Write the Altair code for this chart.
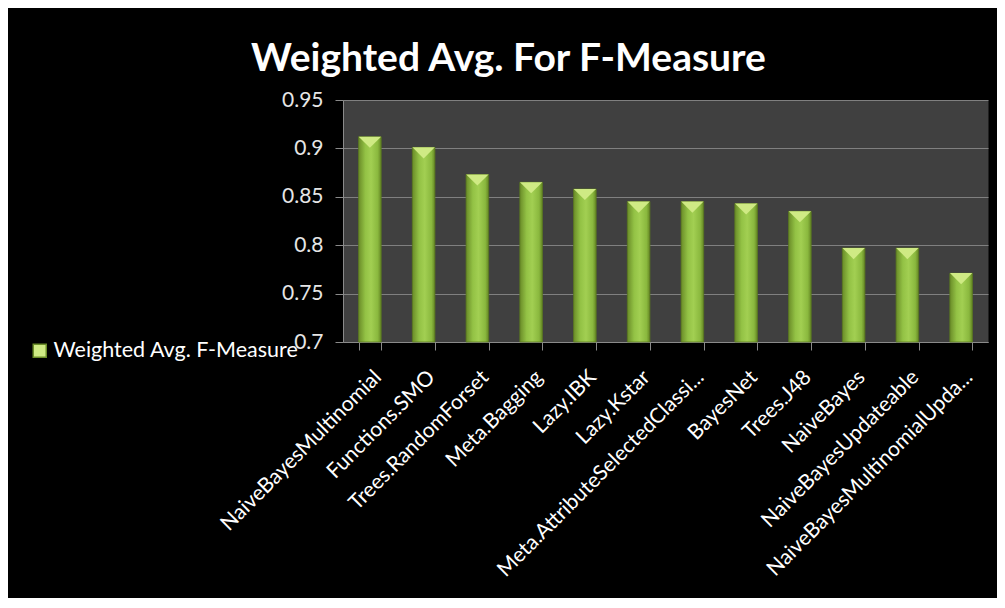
import altair as alt
import pandas as pd

categories = [
    "NaiveBayesMultinomial",
    "Functions.SMO",
    "Trees.RandomForset",
    "Meta.Bagging",
    "Lazy.IBK",
    "Lazy.Kstar",
    "Meta.AttributeSelectedClassi...",
    "BayesNet",
    "Trees.J48",
    "NaiveBayes",
    "NaiveBayesUpdateable",
    "NaiveBayesMultinomialUpda...",
]
values = [0.912, 0.901, 0.873, 0.865, 0.858, 0.845, 0.845, 0.843, 0.835, 0.797, 0.797, 0.771]
series_name = "Weighted Avg. F-Measure"
y_ticks = [0.7, 0.75, 0.8, 0.85, 0.9, 0.95]

df = pd.DataFrame({"algo": categories, "value": values, "series": [series_name] * len(categories)})

FONT = "Lato"

x_enc = alt.X(
    "algo:N",
    sort=None,
    scale=alt.Scale(paddingInner=0.58, paddingOuter=0.29),
    axis=alt.Axis(
        title=None,
        labelAngle=-45,
        labelColor="#ffffff",
        labelFont=FONT,
        labelFontSize=21,
        labelLimit=0,
        labelPadding=16,
        tickBand="extent",
        tickSize=8,
        tickColor="#8a8a8a",
        domainColor="#8a8a8a",
        grid=False,
    ),
)
y_scale = alt.Scale(domain=[0.7, 0.95], nice=False, zero=False)
y_enc = alt.Y(
    "value:Q",
    scale=y_scale,
    axis=alt.Axis(
        title=None,
        values=y_ticks,
        format="~g",
        labelColor="#e6e6e6",
        labelFont=FONT,
        labelFontSize=21,
        labelPadding=12,
        tickSize=8,
        tickColor="#8a8a8a",
        domainColor="#8a8a8a",
        grid=True,
        gridColor="#808080",
        gridWidth=1.2,
    ),
)

bar_grad = alt.Gradient(
    gradient="linear",
    stops=[
        alt.GradientStop(color="#6a8c28", offset=0),
        alt.GradientStop(color="#93c245", offset=0.3),
        alt.GradientStop(color="#a2cf52", offset=0.55),
        alt.GradientStop(color="#8ab83e", offset=0.85),
        alt.GradientStop(color="#658624", offset=1),
    ],
    x1=0, x2=1, y1=0, y2=0,
)

bars = alt.Chart(df).mark_bar(
    color=bar_grad, stroke="#5b7a1f", strokeWidth=0.8
).encode(
    x=x_enc,
    y=y_enc,
    y2=alt.datum(0.7),
)

caps = alt.Chart(df).mark_point(
    shape="M -1 -0.55 L 1 -0.55 L 0 0.45 Z",
    filled=True,
    size=500,
    opacity=1,
    yOffset=6,
).encode(
    x=alt.X("algo:N", sort=None),
    y=alt.Y("value:Q", scale=y_scale),
    color=alt.Color(
        "series:N",
        scale=alt.Scale(range=["#cfea84"]),
        legend=alt.Legend(
            title=None,
            orient="none",
            legendX=-314,
            legendY=240,
            symbolType="square",
            symbolSize=169,
            symbolFillColor="#94c246",
            symbolStrokeColor="#6a8c28",
            labelColor="#ffffff",
            labelFont=FONT,
            labelFontSize=21.5,
            labelLimit=0,
            labelOffset=3,
            padding=0,
        ),
    ),
)

chart = (
    alt.layer(bars, caps)
    .properties(
        width=645,
        height=242,
        background="#000000",
        padding={"left": 335, "top": 92, "right": 9, "bottom": 256},
        autosize=alt.AutoSizeParams(type="none"),
        title=alt.TitleParams(
            "Weighted Avg. For F-Measure",
            font=FONT,
            fontSize=39,
            fontWeight="bold",
            color="#ffffff",
            anchor="middle",
            dx=-157,
            offset=10,
        ),
    )
    .configure_view(fill="#404040", stroke="transparent")
)

chart.save("out.html", embed_options={"renderer": "svg", "actions": False})
